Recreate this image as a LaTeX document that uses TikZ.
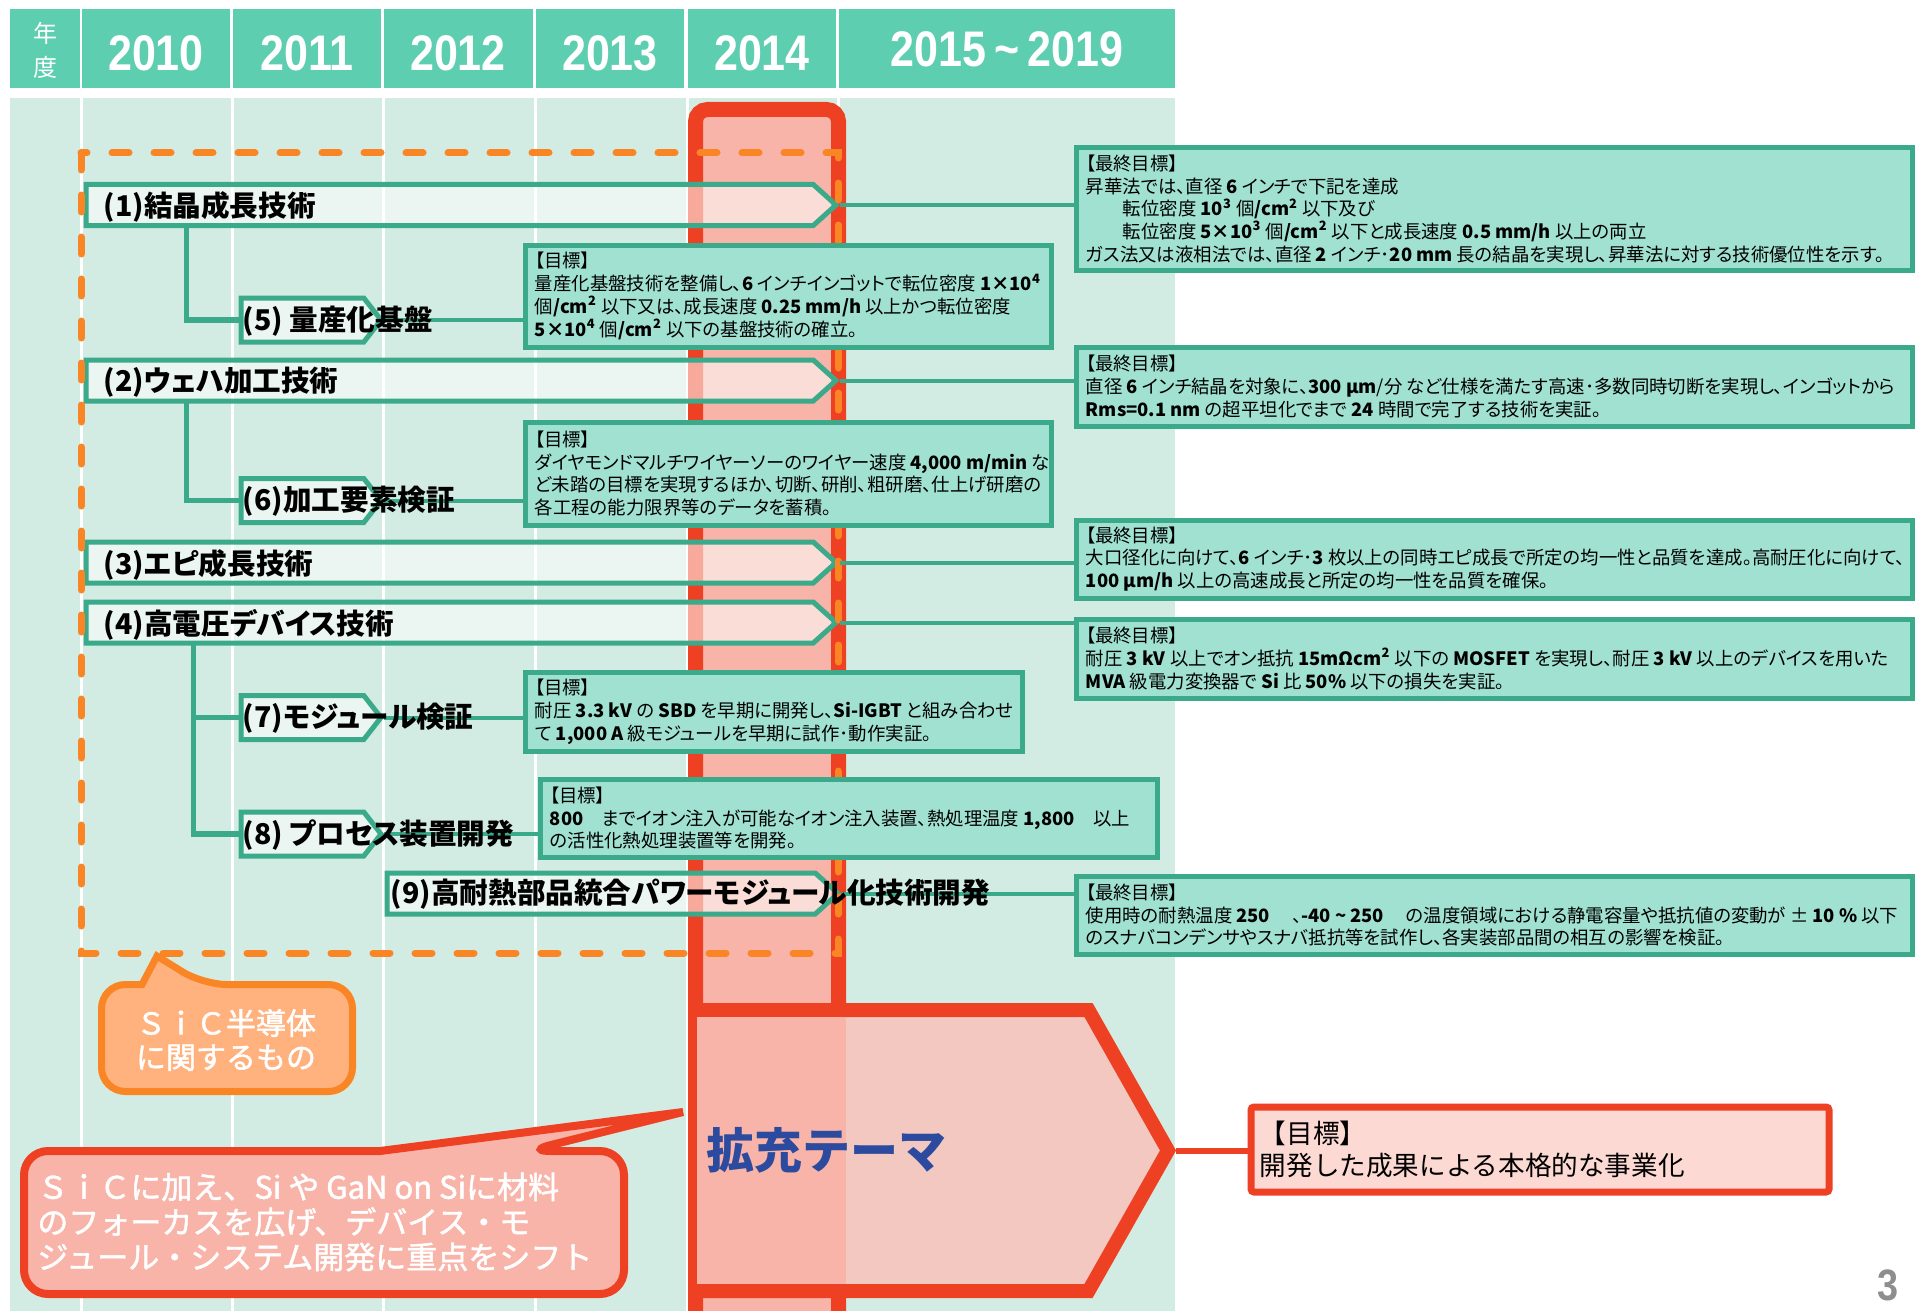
\documentclass[tikz,border=0pt]{standalone}
\usepackage{fontspec}
\newfontfamily\jp{Noto Sans CJK JP}[RawFeature=+palt]
\newfontfamily\jpw{Noto Sans CJK JP}
\newfontfamily\jpm{Noto Sans CJK JP}[FakeBold=1.6]
\newfontfamily\hdr{Liberation Sans}[FakeStretch=0.86]
\usetikzlibrary{shapes.symbols,calc}
\definecolor{hdrteal}{HTML}{5ECEB1}
\definecolor{bodybg}{HTML}{D3ECE3}
\definecolor{tealc}{HTML}{3AAA8A}
\definecolor{goalfill}{HTML}{A0E1D1}
\definecolor{redc}{HTML}{EE4124}
\definecolor{salmon}{HTML}{F8B4A8}
\definecolor{orangec}{HTML}{F98524}
\definecolor{ofill}{HTML}{FFB27E}
\definecolor{arrowfill}{HTML}{F3C8C1}
\definecolor{finalfill}{HTML}{FCD9D3}
\definecolor{blueT}{HTML}{2C4B9E}
\definecolor{pagegray}{HTML}{8E8E8E}
\begin{document}
\begin{tikzpicture}[x=0.5pt,y=-0.5pt,
  yr/.style={font=\hdr\bfseries\fontsize{25pt}{25pt}\selectfont, text=white, inner sep=0pt},
  strip/.style={signal, signal to=east, signal pointer angle=84, draw=tealc, line width=2.5pt,
    fill=white, fill opacity=0.55, inner sep=0pt, anchor=west, minimum height=20.5pt},
  substrip/.style={strip, signal pointer angle=104, minimum height=22pt, minimum width=70pt},
  lab/.style={font=\jp\bfseries\fontsize{14.3pt}{16pt}\selectfont, anchor=west, inner sep=0pt},
  conn/.style={draw=tealc, line width=2.75pt},
  link/.style={draw=tealc, line width=2pt},
  gbox/.style={rectangle, draw=tealc, line width=2.5pt, fill=goalfill, anchor=north west, inner sep=0pt},
  gtext/.style={font=\jp\fontsize{9.2pt}{11.4pt}\selectfont, align=left, anchor=west, inner sep=0pt},
  rtext/.style={font=\jp\fontsize{9.2pt}{11.3pt}\selectfont, align=left, anchor=west, inner sep=0pt},
  calltext/.style={font=\jpm\fontsize{15.5pt}{17.5pt}\selectfont, text=white, inner sep=0pt},
]
\useasboundingbox (0,0) rectangle (1923,1311);
\clip (0,0) rectangle (1923,1311);
\fill[white] (0,0) rectangle (1923,1311);
% header
\foreach \a/\b in {10/80,82/230,233/381,384/533,536/684,688/836,839/1175}
  \fill[hdrteal] (\a,9) rectangle (\b,88);
\node[font=\jpw\fontsize{12pt}{17pt}\selectfont, text=white, align=center, inner sep=0pt] (nendo) at (45,50) {年\\度};
\node[yr] (y2010) at (156,53) {2010};
\node[yr] (y2011) at (307,53) {2011};
\node[yr] (y2012) at (458,53) {2012};
\node[yr] (y2013) at (610,53) {2013};
\node[yr] (y2014) at (762,53) {2014};
\node[yr] (y2015) at (1007,49) {2015\,\textasciitilde\,2019};
% body
\fill[bodybg] (10,98) rectangle (1175,1311);
\foreach \x in {81,232,383,535,687,838}
  \draw[white, line width=1.5pt] (\x,98) -- (\x,1311);
% red band
\filldraw[fill=salmon, draw=redc, line width=7.5pt, rounded corners=6pt]
  (695.5,1340) -- (695.5,109.5) -- (838.5,109.5) -- (838.5,1340);
% strips
\node[strip, minimum width=375pt] (s1) at (83.5,205) {};
\node[strip, minimum width=375pt] (s2) at (83.5,380.5) {};
\node[strip, minimum width=375pt] (s3) at (83.5,562.5) {};
\node[strip, minimum width=375pt] (s4) at (83.5,622.5) {};
\node[strip, minimum width=225.5pt] (s9) at (384.5,893.5) {};
\coordinate (k1) at ($(s1.west)+(103,20)$);
\coordinate (k2) at ($(s2.west)+(103,20)$);
\coordinate (k4) at ($(s4.west)+(110,20)$);
\draw[conn] (k1) |- (238.5,320);
\draw[conn] (k2) |- (238.5,500.5);
\draw[conn] (k4) |- (238.5,834);
\draw[conn] (k4 |- 0,717.5) -- (238.5,717.5);
\node[substrip] (s5) at (238.5,320) {};
\node[substrip] (s6) at (238.5,500.5) {};
\node[substrip] (s7) at (238.5,717.5) {};
\node[substrip] (s8) at (238.5,834) {};
% dashed frame
\draw[orangec, line width=3.5pt, line cap=round, dash pattern=on 8.5pt off 12.5pt]
  (81,153) rectangle (838,953);
% goal boxes
\node[gbox, minimum width=263pt, minimum height=51pt] (g5) at (522.5,242.5) {};
\node[gbox, minimum width=263pt, minimum height=51.5pt] (g6) at (522.5,419.5) {};
\node[gbox, minimum width=248.5pt, minimum height=39.5pt] (g7) at (522.5,669.5) {};
\node[gbox, minimum width=308.5pt, minimum height=39pt] (g8) at (537.5,776.5) {};
\node[gbox, minimum width=418pt, minimum height=61pt] (r1) at (1073.5,145.5) {};
\node[gbox, minimum width=418pt, minimum height=39.5pt] (r2) at (1073.5,344.5) {};
\node[gbox, minimum width=418pt, minimum height=39pt] (r3) at (1073.5,517.5) {};
\node[gbox, minimum width=418pt, minimum height=39.5pt] (r4) at (1073.5,616.5) {};
\node[gbox, minimum width=418pt, minimum height=39pt] (r9) at (1073.5,873.5) {};
% links
\draw[link] (s5.east) -- (g5.west |- s5.east);
\draw[link] (s6.east) -- (g6.west |- s6.east);
\draw[link] (s7.east) -- (g7.west |- s7.east);
\draw[link] (s8.east) -- (g8.west |- s8.east);
\draw[link] (s1.east) -- (r1.west |- s1.east);
\draw[link] (s2.east) -- (r2.west |- s2.east);
\draw[link] (s3.east) -- (r3.west |- s3.east);
\draw[link] (s4.east) -- (r4.west |- s4.east);
\draw[link] (s9.east) -- (r9.west |- s9.east);
% box texts
\node[gtext] (g5t) at ($(g5.west)+(12,0)$) {【目標】\\量産化基盤技術を整備し、\textbf{6} インチインゴットで転位密度 \textbf{1×10\textsuperscript{4}}\\個\textbf{/cm\textsuperscript{2}} 以下又は、成長速度 \textbf{0.25 mm/h} 以上かつ転位密度\\\textbf{5×10\textsuperscript{4}} 個\textbf{/cm\textsuperscript{2}} 以下の基盤技術の確立。};
\node[gtext] (g6t) at ($(g6.west)+(12,0)$) {【目標】\\ダイヤモンドマルチワイヤーソーのワイヤー速度 \textbf{4,000 m/min} な\\ど未踏の目標を実現するほか、切断、研削、粗研磨、仕上げ研磨の\\各工程の能力限界等のデータを蓄積。};
\node[gtext] (g7t) at ($(g7.west)+(12,0)$) {【目標】\\耐圧 \textbf{3.3 kV} の \textbf{SBD} を早期に開発し、\textbf{Si-IGBT} と組み合わせ\\て \textbf{1,000 A} 級モジュールを早期に試作･動作実証。};
\node[gtext] (g8t) at ($(g8.west)+(12,0)$) {【目標】\\\textbf{800}\hspace{1em}までイオン注入が可能なイオン注入装置、熱処理温度 \textbf{1,800}\hspace{1em}以上\\の活性化熱処理装置等を開発。};
\node[rtext] (r1t) at ($(r1.west)+(12,0)$) {【最終目標】\\昇華法では、直径 \textbf{6} インチで下記を達成\\\hspace*{18.5pt}転位密度 \textbf{10\textsuperscript{3}} 個\textbf{/cm\textsuperscript{2}} 以下及び\\\hspace*{18.5pt}転位密度 \textbf{5×10\textsuperscript{3}} 個\textbf{/cm\textsuperscript{2}} 以下と成長速度 \textbf{0.5 mm/h} 以上の両立\\ガス法又は液相法では、直径 \textbf{2} インチ･\textbf{20 mm} 長の結晶を実現し、昇華法に対する技術優位性を示す。};
\node[rtext] (r2t) at ($(r2.west)+(12,0)$) {【最終目標】\\直径 \textbf{6} インチ結晶を対象に、\textbf{300 µm}/分 など仕様を満たす高速･多数同時切断を実現し、インゴットから\\\textbf{Rms=0.1 nm} の超平坦化でまで \textbf{24} 時間で完了する技術を実証。};
\node[rtext] (r3t) at ($(r3.west)+(12,0)$) {【最終目標】\\大口径化に向けて、\textbf{6} インチ･\textbf{3} 枚以上の同時エピ成長で所定の均一性と品質を達成。高耐圧化に向けて、\\\textbf{100 µm/h} 以上の高速成長と所定の均一性を品質を確保。};
\node[rtext] (r4t) at ($(r4.west)+(12,0)$) {【最終目標】\\耐圧 \textbf{3 kV} 以上でオン抵抗 \textbf{15mΩcm\textsuperscript{2}} 以下の \textbf{MOSFET} を実現し、耐圧 \textbf{3 kV} 以上のデバイスを用いた\\\textbf{MVA} 級電力変換器で \textbf{Si} 比 \textbf{50\%} 以下の損失を実証。};
\node[rtext] (r9t) at ($(r9.west)+(12,0)$) {【最終目標】\\使用時の耐熱温度 \textbf{250}\hspace{1.2em}、\textbf{-40 \textasciitilde\ 250}\hspace{1.2em}の温度領域における静電容量や抵抗値の変動が ± \textbf{10 \%} 以下\\のスナバコンデンサやスナバ抵抗等を試作し、各実装部品間の相互の影響を検証。};
% strip labels
\node[lab] (l1) at ($(s1.west)+(20,2)$) {(1)結晶成長技術};
\node[lab] (l2) at ($(s2.west)+(20,2)$) {(2)ウェハ加工技術};
\node[lab] (l3) at ($(s3.west)+(20,2)$) {(3)エピ成長技術};
\node[lab] (l4) at ($(s4.west)+(20,2)$) {(4)高電圧デバイス技術};
\node[lab] (l5) at ($(s5.west)+(4,1)$) {(5) 量産化基盤};
\node[lab] (l6) at ($(s6.west)+(4,1)$) {(6)加工要素検証};
\node[lab] (l7) at ($(s7.west)+(4,1)$) {(7)モジュール検証};
\node[lab] (l8) at ($(s8.west)+(4,1)$) {(8) プロセス装置開発};
\node[lab] (l9) at ($(s9.west)+(6,1)$) {(9)高耐熱部品統合パワーモジュール化技術開発};
% big arrow
\node[signal, signal to=east, signal pointer angle=121, draw=redc, line width=7pt, fill=arrowfill,
  minimum width=235.5pt, minimum height=140.5pt, inner sep=0pt, anchor=west] (ext) at (690,1150.5) {};
\fill[salmon] (697,1017) rectangle (846,1284);
\node[font=\jpw\bfseries\fontsize{24pt}{24pt}\selectfont, text=blueT, inner sep=0pt] (extt) at (826,1150) {拡充テーマ};
% final goal
\node[rectangle, draw=redc, line width=3.5pt, fill=finalfill, anchor=north west, inner sep=0pt,
  minimum width=289pt, minimum height=42.5pt, rounded corners=1.5pt] (fin) at (1247.5,1103.5) {};
\draw[redc, line width=3pt] (ext.east) -- (fin.west |- ext.east);
\node[anchor=west, align=left, inner sep=0pt, font=\jpw\fontsize{13.3pt}{16pt}\selectfont] (fint) at ($(fin.west)+(12,0)$) {【目標】\\開発した成果による本格的な事業化};
% orange callout
\draw[draw=orangec, fill=ofill, line width=3.5pt, rounded corners=12pt]
  (142,984.5) -- (101.5,984.5) -- (101.5,1091.5) -- (352.5,1091.5) -- (352.5,984.5) -- (203,984.5)
  [sharp corners] -- (157,956) -- cycle;
\node[calltext, font=\jpm\fontsize{15pt}{17pt}\selectfont, align=center] (oct) at (226,1040) {ＳｉＣ半導体\\に関するもの};
% red callout
\draw[draw=redc, fill=salmon, line width=4pt, rounded corners=12pt]
  (380,1151) -- (24,1151) -- (24,1294) -- (624,1294) -- (624,1151) -- (527,1151)
  [sharp corners] -- (683,1112) -- cycle;
\node[calltext, align=left, anchor=west] (rct) at (37,1222) {ＳｉＣに加え、Si や GaN on Siに材料\\のフォーカスを広げ、デバイス・モ\\ジュール・システム開発に重点をシフト};
% page number
\node[font=\hdr\bfseries\fontsize{22pt}{22pt}\selectfont, text=pagegray, inner sep=0pt] (pg) at (1888,1285) {3};
\end{tikzpicture}
\end{document}
